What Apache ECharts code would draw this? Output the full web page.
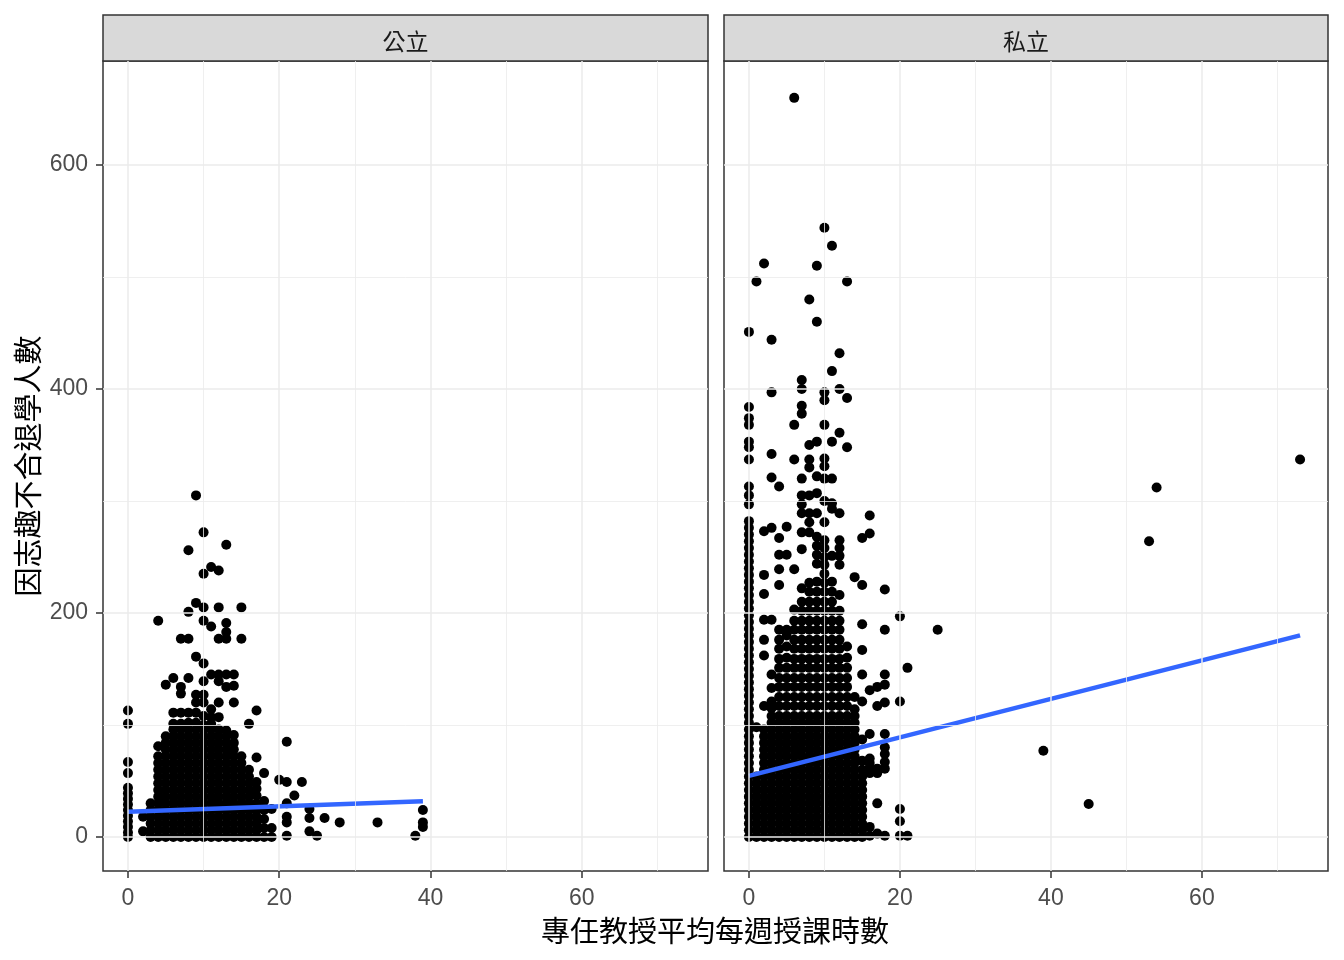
<!DOCTYPE html>
<html>
<head>
<meta charset="utf-8">
<title>因志趣不合退學人數</title>
<script src="https://cdn.jsdelivr.net/npm/echarts@6/dist/echarts.min.js"></script>
<style>
  html, body { margin: 0; padding: 0; background: #fff; }
  #chart { width: 1344px; height: 960px; }
</style>
</head>
<body>
<div id="chart"></div>
<script>
'use strict';
// facet names
var panels = ['公立', '私立'];
// ticks / grid
var xTicks = [0, 20, 40, 60];
var xMinor = [10, 30, 50, 70];
var yTicks = [0, 200, 400, 600];
var yMinor = [100, 300, 500];

// 公立: [x, [y, y, ...]] columns
var pubCols = [
    [0, [0,4,9,14,19,24,29,34,39,44,57,67,101,113]],
    [2, [5,18]],
    [3, [0,6,12,18,24,30]],
    [4, [0,6,12,18,24,30,36,42,48,54,60,66,72,81,193]],
    [5, [0,6,12,18,24,30,36,42,48,54,60,66,72,78,84,90,136]],
    [6, [0,6,12,18,24,30,36,42,48,54,60,66,72,78,84,90,96,101,111,142]],
    [7, [0,6,12,18,24,30,36,42,48,54,60,66,72,78,84,90,96,101,111,128,134,177]],
    [8, [0,6,12,18,24,30,36,42,48,54,60,66,72,78,84,90,96,102,111,142,177,201,256]],
    [9, [0,6,12,18,24,30,36,42,48,54,60,66,72,78,84,90,96,102,111,120,127,161,209,305]],
    [10, [0,6,12,18,24,30,36,42,48,54,60,66,72,78,84,90,96,100,108,120,127,139,155,193,205,235,272]],
    [11, [0,6,12,18,24,30,36,42,48,54,60,66,72,78,84,90,96,101,107,114,145,188,241]],
    [12, [0,6,12,18,24,30,36,42,48,54,60,66,72,78,84,90,96,107,120,139,145,177,205,238]],
    [13, [0,6,12,18,24,30,36,42,48,54,60,66,72,78,84,90,95,134,145,177,183,191,261]],
    [14, [0,6,12,18,24,30,36,42,48,54,60,66,72,78,84,91,120,135,145]],
    [15, [0,6,12,18,24,30,36,42,48,54,60,66,72,177,205]],
    [16, [0,6,12,18,24,30,36,42,48,54,60,101]],
    [17, [0,6,12,18,24,30,37,43,49,71,113]],
    [18, [0,8,16,24,32,57]],
    [19, [0,8,25]],
    [20, [51]],
    [21, [1,13,18,30,49,85]],
    [22, [37]],
    [23, [49]],
    [24, [5,17,25]],
    [25, [1]],
    [26, [17]],
    [28, [13]],
    [33, [13]],
    [38, [1]],
    [39, [9,13,24]]
];

// 私立
var priCols = [
    [0, [0,6,12,18,24,30,36,42,48,54,60,66,72,78,84,90,96,102,108,114,120,126,132,138,144,150,156,162,168,174,180,186,192,198,204,210,216,222,228,234,240,246,252,258,264,270,276,282,297,305,313,337,348,353,368,374,384,451]],
    [1, [0,6,12,18,24,30,36,42,48,54,98,496]],
    [2, [0,6,12,18,24,30,36,42,48,54,60,66,72,78,84,90,96,117,162,176,194,217,234,273,512]],
    [3, [0,6,12,18,24,30,36,42,48,54,60,66,72,78,84,90,96,102,108,115,121,133,145,194,276,321,342,397,444]],
    [4, [0,6,12,18,24,30,36,42,48,54,60,66,72,78,84,90,96,102,108,117,125,134,142,151,159,168,176,185,225,239,252,267,313]],
    [5, [0,6,12,18,24,30,36,42,48,54,60,66,72,78,84,90,96,102,108,117,125,134,142,151,160,170,180,185,252,277]],
    [6, [0,6,12,18,24,30,36,42,48,54,60,66,72,78,84,90,96,102,108,117,125,134,142,151,159,168,176,185,193,203,239,337,368,660]],
    [7, [0,6,12,18,24,30,36,42,48,54,60,66,72,78,84,90,96,102,108,117,125,134,142,151,159,168,176,185,193,202,210,222,257,272,289,297,305,320,378,385,400,408]],
    [8, [0,6,12,18,24,30,36,42,48,54,60,66,72,78,84,90,96,102,108,117,125,134,142,151,159,168,176,185,193,202,210,219,227,272,281,289,305,330,337,350,480]],
    [9, [0,6,12,18,24,30,36,42,48,54,60,66,72,78,84,90,96,102,108,117,125,134,142,151,159,168,176,185,193,202,210,219,228,244,252,260,268,289,307,322,353,460,510]],
    [10, [0,6,12,18,24,30,36,42,48,54,60,66,72,78,84,90,96,102,108,117,125,134,142,151,159,168,176,185,193,202,210,219,227,235,243,250,258,265,281,300,320,331,338,368,390,397,544]],
    [11, [0,6,12,18,24,30,36,42,48,54,60,66,72,78,84,90,96,102,108,117,125,134,142,151,159,168,176,185,193,202,210,219,228,251,293,298,320,353,416,528]],
    [12, [0,6,12,18,24,30,36,42,48,54,60,66,72,78,84,90,96,102,108,117,125,134,142,151,159,168,176,185,193,202,216,243,251,258,265,289,361,400,432]],
    [13, [0,6,12,18,24,30,36,42,48,54,60,66,72,78,84,90,96,102,108,117,125,134,142,151,160,170,348,392,496]],
    [14, [0,6,12,18,24,30,36,42,48,54,60,66,72,78,84,90,96,102,108,114,125,232]],
    [15, [0,6,12,18,24,30,36,42,48,54,60,68,87,121,145,167,190,225,267]],
    [16, [1,9,57,62,66,70,92,131,271,287]],
    [17, [3,30,57,61,117,134]],
    [18, [1,61,67,74,80,92,120,136,145,185,221]],
    [20, [1,14,25,121,197]],
    [21, [1,151]],
    [25, [185]],
    [39, [77]],
    [45, [29.5]],
    [53, [264]],
    [54, [312]],
    [73, [337]]
];

// lm lines, endpoints
var pubFit = [[0, 22.5], [39, 31.8]];
var priFit = [[0, 54.5], [73, 180]];

var sans = '"Liberation Sans", Arial, sans-serif';
var cjk = '"Noto Sans CJK TC", "Noto Sans CJK SC", sans-serif';

function flatten(cols) {
    var out = [];
    cols.forEach(function (c) {
        c[1].forEach(function (y) { out.push([c[0], y]); });
    });
    return out;
}

function gridLines() {
    var d = [];
    xTicks.forEach(function (v) { d.push({ xAxis: v, lineStyle: { color: '#EBEBEB', width: 1.5, type: 'solid' } }); });
    xMinor.forEach(function (v) { d.push({ xAxis: v, lineStyle: { color: '#EBEBEB', width: 0.8, type: 'solid' } }); });
    yTicks.forEach(function (v) { d.push({ yAxis: v, lineStyle: { color: '#EBEBEB', width: 1.5, type: 'solid' } }); });
    yMinor.forEach(function (v) { d.push({ yAxis: v, lineStyle: { color: '#EBEBEB', width: 0.8, type: 'solid' } }); });
    return d;
}

var gridPos = [{ left: 103, width: 605 }, { left: 724, width: 604 }];
var cols = [pubCols, priCols];
var fits = [pubFit, priFit];

var grids = [], xAxes = [], yAxes = [], series = [], graphics = [];

gridPos.forEach(function (g, i) {
    grids.push({
        left: g.left, top: 61, width: g.width, height: 810,
        show: true, borderColor: '#333', borderWidth: 1.5, backgroundColor: '#fff'
    });
    xAxes.push({
        type: 'value', gridIndex: i, min: -3.3, max: 76.7, position: 'bottom',
        axisLine: { show: false, onZero: false },
        axisTick: { show: true, customValues: xTicks, length: 7, lineStyle: { color: '#333', width: 1.5 } },
        axisLabel: { show: true, customValues: xTicks, margin: 16, color: '#4D4D4D', fontSize: 23, fontFamily: sans },
        splitLine: { show: false }
    });
    yAxes.push({
        type: 'value', gridIndex: i, min: -30.4, max: 692.9, position: 'left',
        axisLine: { show: false, onZero: false },
        axisTick: { show: i === 0, customValues: yTicks, length: 7, lineStyle: { color: '#333', width: 1.5 } },
        axisLabel: { show: i === 0, customValues: yTicks, margin: 15, color: '#4D4D4D', fontSize: 23, fontFamily: sans },
        splitLine: { show: false }
    });
    // panel grid lines
    series.push({
        type: 'line', xAxisIndex: i, yAxisIndex: i, data: [], z: 1, silent: true,
        markLine: {
            silent: true, symbol: ['none', 'none'], label: { show: false },
            emphasis: { disabled: true }, animation: false, data: gridLines()
        }
    });
    series.push({
        type: 'scatter', xAxisIndex: i, yAxisIndex: i, z: 2, silent: true,
        data: flatten(cols[i]), symbol: 'circle', symbolSize: 10,
        itemStyle: { color: '#000', opacity: 1 }
    });
    series.push({
        type: 'line', xAxisIndex: i, yAxisIndex: i, z: 3, silent: true,
        data: fits[i], symbol: 'none',
        lineStyle: { color: '#3366FF', width: 4.5 }
    });
    // facet strip
    graphics.push({
        type: 'rect', shape: { x: g.left, y: 15, width: g.width, height: 46 },
        style: { fill: '#D9D9D9', stroke: '#333', lineWidth: 1.5 }
    });
    graphics.push({
        type: 'text', x: g.left + g.width / 2, y: 41,
        style: { text: panels[i], fill: '#1A1A1A', font: '23px ' + cjk, textAlign: 'center', textVerticalAlign: 'middle' }
    });
});

// axis titles
graphics.push({
    type: 'text', x: 715, y: 931,
    style: { text: '專任教授平均每週授課時數', fill: '#000', font: '29px ' + cjk, textAlign: 'center', textVerticalAlign: 'middle' }
});
graphics.push({
    type: 'text', x: 28, y: 466, rotation: Math.PI / 2,
    style: { text: '因志趣不合退學人數', fill: '#000', font: '29px ' + cjk, textAlign: 'center', textVerticalAlign: 'middle' }
});

var myChart = echarts.init(document.getElementById('chart'));
myChart.setOption({
    animation: false,
    backgroundColor: '#fff',
    grid: grids,
    xAxis: xAxes,
    yAxis: yAxes,
    series: series,
    graphic: graphics
});
</script>
</body>
</html>
